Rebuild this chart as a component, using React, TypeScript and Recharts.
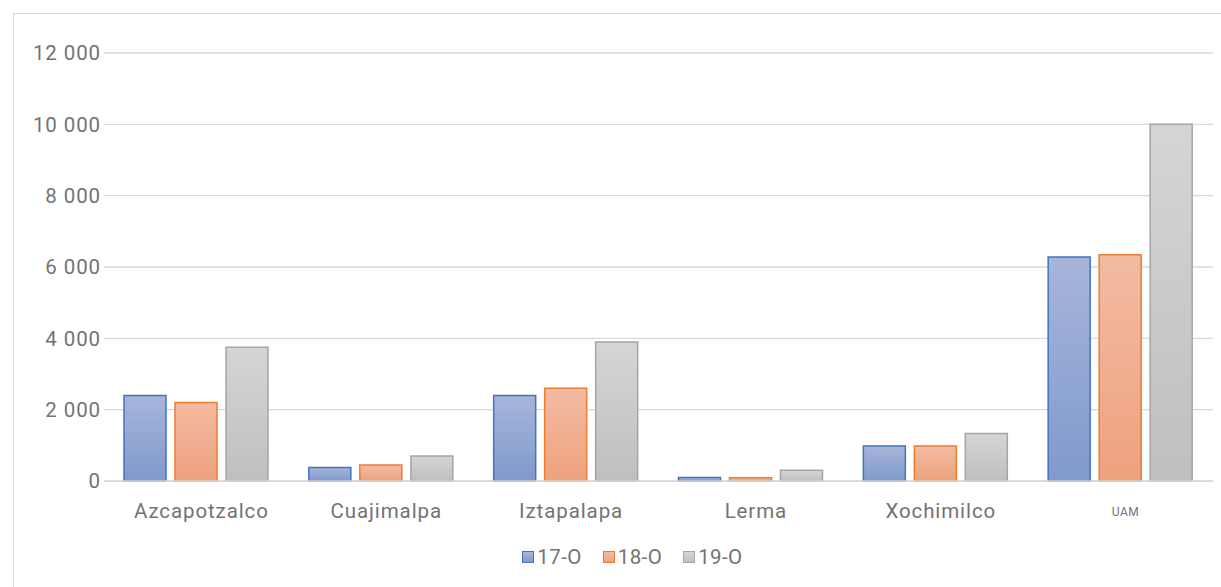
import { BarChart, Bar, XAxis, YAxis, CartesianGrid, Legend } from "recharts";

const campus = ["Azcapotzalco", "Cuajimalpa", "Iztapalapa", "Lerma", "Xochimilco", "UAM"];
const s17 = [2400, 380, 2400, 100, 980, 6280];
const s18 = [2200, 450, 2600, 90, 980, 6340];
const s19 = [3750, 700, 3900, 300, 1330, 10000];
const yTicks = [0, 2000, 4000, 6000, 8000, 10000, 12000];

const series = [
  { key: "s17", name: "17-O", stroke: "#4472c4", top: "#a7b5da", bottom: "#7f9acd" },
  { key: "s18", name: "18-O", stroke: "#ed7d31", top: "#f3bba3", bottom: "#eea27e" },
  { key: "s19", name: "19-O", stroke: "#a5a5a5", top: "#d5d5d5", bottom: "#bfbfbf" },
];

const data = campus.map((c, i) => ({ campus: c, s17: s17[i], s18: s18[i], s19: s19[i] }));

const font = "Roboto, 'Open Sans', sans-serif";
const textColor = "#737373";

const fmt = (v: number) => String(v).replace(/\B(?=(\d{3})+(?!\d))/g, " ");

function CampusTick(props: any) {
  const { x, y, payload } = props;
  const small = payload.value === "UAM";
  return (
    <text
      x={x + 5}
      y={y + 24}
      textAnchor="middle"
      fill={textColor}
      fontSize={small ? 12 : 20.5}
      letterSpacing={small ? 0.6 : 0.9}
      fontFamily={font}
      dominantBaseline="middle"
    >
      {payload.value}
    </text>
  );
}

function LegendBox() {
  return (
    <div style={{ display: "flex", justifyContent: "center", gap: 21, height: 22, marginLeft: 52, alignItems: "center", fontFamily: font, fontSize: 20.5, letterSpacing: 0.4, color: textColor }}>
      {series.map((s) => (
        <div key={s.key} style={{ display: "flex", alignItems: "center" }}>
          <span
            style={{
              display: "inline-block",
              width: 10,
              height: 10,
              border: `1.5px solid ${s.stroke}`,
              background: `linear-gradient(${s.top}, ${s.bottom})`,
              marginRight: 3,
            }}
          />
          <span>{s.name}</span>
        </div>
      ))}
    </div>
  );
}

export default function App() {
  return (
    <div style={{ position: "absolute", left: 0, top: 0, width: 1221, height: 587, background: "#fff", overflow: "hidden" }}>
      <div style={{ position: "absolute", left: 13, top: 13, width: 1230, height: 600, border: "1px solid #d9d9d9" }} />
      <BarChart
        width={1221}
        height={587}
        data={data}
        margin={{ top: 53, right: 8, left: 0, bottom: 19 }}
        barCategoryGap={20}
        barGap={9}
      >
        <defs>
          {series.map((s) => (
            <linearGradient key={s.key} id={`g-${s.key}`} x1="0" y1="0" x2="0" y2="1">
              <stop offset="0%" stopColor={s.top} />
              <stop offset="100%" stopColor={s.bottom} />
            </linearGradient>
          ))}
        </defs>
        <CartesianGrid vertical={false} stroke="#d9d9d9" strokeWidth={1.3} />
        <XAxis
          dataKey="campus"
          height={65}
          tickLine={false}
          axisLine={{ stroke: "#d9d9d9", strokeWidth: 1.5 }}
          tick={<CampusTick />}
          interval={0}
        />
        <YAxis
          width={104}
          domain={[0, 12000]}
          ticks={yTicks}
          tickFormatter={fmt}
          axisLine={false}
          tickLine={false}
          tickSize={0}
          tickMargin={3}
          tick={{ fill: textColor, fontSize: 20.5, fontFamily: font, letterSpacing: 0.9 }}
        />
        <Legend verticalAlign="bottom" content={<LegendBox />} />
        {series.map((s) => (
          <Bar
            key={s.key}
            dataKey={s.key}
            name={s.name}
            fill={`url(#g-${s.key})`}
            stroke={s.stroke}
            strokeWidth={1.5}
            isAnimationActive={false}
          />
        ))}
      </BarChart>
    </div>
  );
}
